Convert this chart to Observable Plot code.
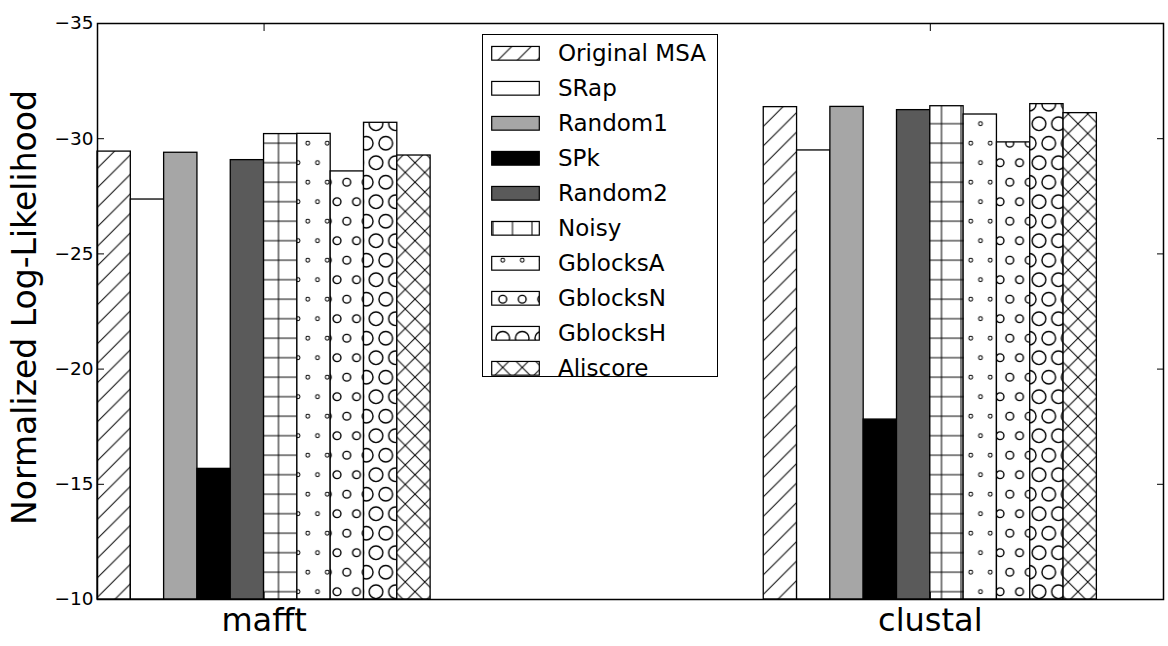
<!DOCTYPE html>
<html>
<head>
<meta charset="utf-8">
<script src="https://cdn.jsdelivr.net/npm/d3@7"></script>
<script src="https://cdn.jsdelivr.net/npm/@observablehq/plot@0.6"></script>
<style>
  html, body { margin: 0; padding: 0; background: white; }
  svg { display: block; }
</style>
</head>
<body>
<div id="chart"></div>
<script>
// ---- data ----
const groups = ["mafft", "clustal"];
const methods = ["Original MSA", "SRap", "Random1", "SPk", "Random2", "Noisy", "GblocksA", "GblocksN", "GblocksH", "Aliscore"];
const mafftValues   = [-29.44, -27.36, -29.39, -15.67, -29.07, -30.20, -30.21, -28.58, -30.69, -29.27];
const clustalValues = [-31.37, -29.49, -31.38, -17.81, -31.24, -31.41, -31.05, -29.84, -31.50, -31.11];
const yTicks = [-35, -30, -25, -20, -15, -10];
const yLabel = "Normalized Log-Likelihood";

// ---- styles ----
const fills = {
  "Original MSA": "url(#hatch-slash)",
  "SRap": "white",
  "Random1": "#a6a6a6",
  "SPk": "black",
  "Random2": "#5a5a5a",
  "Noisy": "url(#hatch-plus)",
  "GblocksA": "url(#hatch-dots)",
  "GblocksN": "url(#hatch-small-o)",
  "GblocksH": "url(#hatch-big-o)",
  "Aliscore": "url(#hatch-x)"
};

// layout in bar-width units: each group has 10 bars, 10-unit gap, 2 units right padding
const groupStep = 20;
const xMax = groupStep * (groups.length - 1) + methods.length + 2;
const seriesByGroup = {mafft: mafftValues, clustal: clustalValues};
const rows = [];
groups.forEach((g, gi) => {
  methods.forEach((m, mi) => {
    rows.push({group: g, method: m, value: seriesByGroup[g][mi],
               x1: gi * groupStep + mi, x2: gi * groupStep + mi + 1});
  });
});
const groupCenters = groups.map((g, gi) => gi * groupStep + methods.length / 2);
const yBase = d3.max(yTicks);

const minus = d => (d < 0 ? "\u2212" : "") + Math.abs(d);
const blank = () => "";

const plot = Plot.plot({
  width: 1168,
  height: 646,
  marginLeft: 97,
  marginRight: 5,
  marginTop: 23,
  marginBottom: 47,
  style: {fontFamily: "'DejaVu Sans', sans-serif", background: "white", color: "black"},
  x: {domain: [0, xMax]},
  y: {domain: [d3.max(yTicks), d3.min(yTicks)]},
  color: {type: "identity"},
  marks: [
    Plot.rectY(rows, {x1: "x1", x2: "x2", y1: () => yBase, y2: "value",
                      fill: d => fills[d.method], stroke: "black", strokeWidth: 1.3}),
    // inward tick marks on all four sides
    Plot.axisY({anchor: "left", ticks: yTicks, tickSize: 7, dx: 7, tickFormat: blank, label: null, stroke: "black"}),
    Plot.axisY({anchor: "right", ticks: yTicks, tickSize: 7, dx: -7, tickFormat: blank, label: null, stroke: "black"}),
    Plot.axisX({anchor: "top", ticks: groupCenters, tickSize: 7, dy: 7, tickFormat: blank, label: null, stroke: "black"}),
    Plot.axisX({anchor: "bottom", ticks: groupCenters, tickSize: 7, dy: -7, tickFormat: blank, label: null, stroke: "black"}),
    // tick labels
    Plot.text(yTicks, {y: d => d, text: minus, frameAnchor: "left", textAnchor: "end", dx: -4,
                       fontSize: 18.5, fill: "black"}),
    Plot.axisX({anchor: "bottom", ticks: groupCenters, tickSize: 0, tickPadding: 9, fontSize: 32,
                tickFormat: d => groups[groupCenters.indexOf(d)], label: null, fill: "black"}),
    Plot.text([yLabel], {text: d => d, frameAnchor: "left", textAnchor: "middle", rotate: -90, dx: -72, dy: -4,
                         fontSize: 33, fill: "black"}),
    Plot.frame({stroke: "black", strokeWidth: 1.5})
  ]
});

document.getElementById("chart").appendChild(plot);

// ---- hatch patterns (anchored to a common lattice, like matplotlib) ----
const svg = d3.select(plot);
const P = 19.5, OX = 5.5, OY = 6.7;
const defs = svg.insert("defs", ":first-child");

function pattern(id, x, y, w, h) {
  const p = defs.append("pattern").attr("id", id).attr("patternUnits", "userSpaceOnUse")
    .attr("x", x).attr("y", y).attr("width", w).attr("height", h);
  p.append("rect").attr("width", w).attr("height", h).attr("fill", "white");
  return p;
}
const slashPath = `M-2,2L2,-2M-2,${P + 2}L${P + 2},-2M${P - 2},${P + 2}L${P + 2},${P - 2}`;
const backPath = `M-2,-2L${P + 2},${P + 2}M${P - 2},-2L${P + 2},2M-2,${P - 2}L2,${P + 2}`;
pattern("hatch-slash", OX, OY, P, P)
  .append("path").attr("d", slashPath).attr("stroke", "black").attr("stroke-width", 1).attr("fill", "none");
pattern("hatch-x", OX, OY, P, P)
  .append("path").attr("d", slashPath + backPath).attr("stroke", "black").attr("stroke-width", 1).attr("fill", "none");
pattern("hatch-plus", OX - P / 2, OY - P / 2, P, P)
  .append("path").attr("d", `M0,${P / 2}H${P}M${P / 2},0V${P}`)
  .attr("stroke", "black").attr("stroke-width", 1).attr("fill", "none");

function circles(id, r, sw) {
  const p = pattern(id, OX - P / 2, OY - P / 2, P, 2 * P);
  [[P / 2, P / 2], [0, 1.5 * P], [P, 1.5 * P]].forEach(([cx, cy]) => {
    p.append("circle").attr("cx", cx).attr("cy", cy).attr("r", r)
      .attr("fill", "none").attr("stroke", "black").attr("stroke-width", sw);
  });
}
circles("hatch-dots", P * 0.1, 1);
circles("hatch-small-o", P * 0.2, 1.4);
circles("hatch-big-o", P * 0.35, 1.4);

// ---- legend (inside the axes, upper centre) ----
const lg = {x: 482.5, y: 34.5, w: 235, h: 342, rowTop: 53.3, rowStep: 35,
            patchX: 491.7, patchW: 47.6, patchH: 13.7, textX: 558, fontSize: 23};
const legend = svg.append("g").attr("font-family", "'DejaVu Sans', sans-serif")
  .attr("text-anchor", "start");
legend.append("rect").attr("x", lg.x).attr("y", lg.y).attr("width", lg.w).attr("height", lg.h)
  .attr("fill", "white").attr("stroke", "black").attr("stroke-width", 1);
methods.forEach((m, i) => {
  const cy = lg.rowTop + i * lg.rowStep;
  legend.append("rect").attr("x", lg.patchX).attr("y", cy - lg.patchH / 2)
    .attr("width", lg.patchW).attr("height", lg.patchH)
    .attr("fill", fills[m]).attr("stroke", "black").attr("stroke-width", 1.2);
  legend.append("text").attr("x", lg.textX).attr("y", cy).attr("dy", "0.35em")
    .attr("text-anchor", "start")
    .attr("font-size", lg.fontSize).attr("fill", "black").text(m);
});
</script>
</body>
</html>
